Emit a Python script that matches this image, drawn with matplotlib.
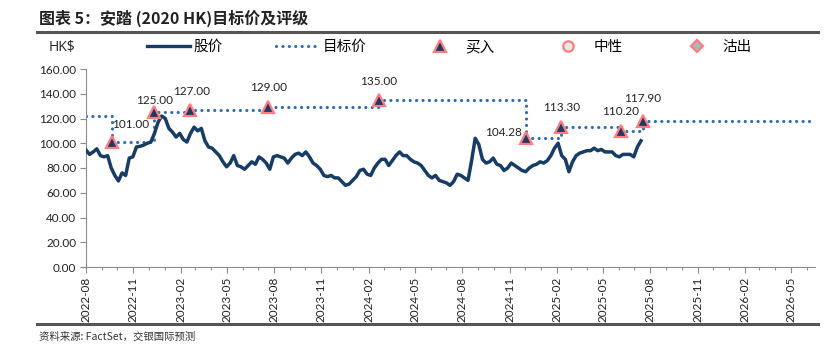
import matplotlib
matplotlib.use("Agg")
import matplotlib.pyplot as plt
import matplotlib.dates as mdates
from matplotlib.lines import Line2D
import pandas as pd

plt.rcParams['font.family'] = ['Noto Sans CJK SC', 'DejaVu Sans']

# weekly close (HK$), from 2022-08-01
price = [
    94.5, 91, 93, 95.5, 90, 89, 90, 80, 74, 69.5,
    76, 74, 88, 89, 97, 97.5, 98.5, 100, 101, 108,
    117, 122, 120, 112, 109, 105, 108, 103, 101, 108,
    113, 110, 112, 102, 97, 96, 93, 90, 85, 81,
    84, 90, 82, 81, 79, 82, 85, 83, 89, 87,
    84, 79, 89, 90, 89, 88, 84, 88, 91, 92,
    90, 93, 89, 84, 82, 79, 74, 73, 74, 72,
    72, 69, 66, 67, 70, 73, 78, 79, 75, 74,
    80, 84, 87, 87, 82, 86, 90, 93, 90, 90,
    87, 85, 84, 82, 78, 74, 72, 74, 70, 69,
    68, 66, 69, 75, 74, 72, 70, 86, 104, 99,
    87, 84, 85, 88, 83, 82, 78, 80, 84, 82,
    80, 78, 77, 80, 82, 83, 85, 84, 86, 90,
    96, 100, 90, 87, 77, 85, 90, 92, 93, 94,
    94, 96, 94, 95, 93, 93, 93, 90, 89, 91,
    91, 91, 89, 97, 102,
]
price_dates = pd.date_range("2022-08-01", periods=len(price), freq="7D")

# target price history (step line)
target_dates = pd.to_datetime([
    "2022-08-01", "2022-09-20", "2022-12-11", "2023-02-19", "2023-07-21",
    "2024-02-21", "2024-12-02", "2025-02-09", "2025-06-05", "2025-07-17",
    "2026-06-17",
])
target_values = [122, 101, 125, 127, 129, 135, 104.28, 113.3, 110.2, 117.9, 117.9]

# rating changes (all 买入)
rating_dates = target_dates[1:10]
rating_targets = target_values[1:10]

# label offsets in pixels (dx, dy) for each rating label
label_offsets = [(19, 18), (1, 12), (2, 18), (0, 20), (0, 18),
                 (-22, 5), (0, 19), (0, 19), (0, 23)]

W, H = 824, 352
fig = plt.figure(figsize=(W / 100, H / 100), dpi=100)
fig.patch.set_facecolor("white")

# plot area in pixels: x 86..815, y 69..267
ax = fig.add_axes([86 / W, 1 - 267 / H, (815 - 86) / W, (267 - 69) / H])

navy = "#173D66"
blue = "#2E6DB4"
pink = "#FF7C80"

ax.plot(price_dates, price, color=navy, lw=2.5, solid_joinstyle="round", zorder=3)
ax.plot(target_dates, target_values, drawstyle="steps-post", color=blue,
        lw=2.3, linestyle=(0, (0.01, 2.0)), dash_capstyle="round", zorder=2)
ax.plot(rating_dates, rating_targets, linestyle="none", marker="^", ms=9,
        mfc="#1F3864", mec=pink, mew=1.6, zorder=4)

for d, v, (dx, dy) in zip(rating_dates, rating_targets, label_offsets):
    ax.annotate(f"{v:.2f}", (d, v), xytext=(dx, dy), textcoords="offset pixels",
                ha="center", va="center", fontsize=8.5, family=["Lato", "DejaVu Sans"],
                color="#222222")

ax.set_ylim(0, 160)
ax.set_yticks(range(0, 161, 20))
ax.set_yticklabels([f"{t:.2f}" for t in range(0, 161, 20)],
                   family=["Lato", "DejaVu Sans"], fontsize=8.5)
ax.set_xlim(pd.Timestamp("2022-08-01"), pd.Timestamp("2026-06-17"))
ax.xaxis.set_major_locator(mdates.MonthLocator(bymonth=[2, 5, 8, 11]))
ax.xaxis.set_minor_locator(mdates.MonthLocator())
ax.xaxis.set_major_formatter(mdates.DateFormatter("%Y-%m"))
for lab in ax.get_xticklabels():
    lab.set_rotation(90)
    lab.set_fontsize(8.5)
    lab.set_family(["Lato", "DejaVu Sans"])

for s in ["top", "right"]:
    ax.spines[s].set_visible(False)
for s in ["left", "bottom"]:
    ax.spines[s].set_color("#8C8C8C")
    ax.spines[s].set_linewidth(0.8)
ax.tick_params(axis="both", which="major", color="#8C8C8C", length=4, width=0.8,
               labelcolor="#222222", pad=3)
ax.tick_params(axis="x", which="minor", color="#8C8C8C", length=2, width=0.8)

# legend row
handles = [
    Line2D([], [], color=navy, lw=2.4),
    Line2D([], [], color=blue, lw=2.3, linestyle=(0, (0.01, 2.0)), dash_capstyle="round"),
    Line2D([], [], linestyle="none", marker="^", ms=8.5, mfc="#1F3864", mec=pink, mew=1.6),
    Line2D([], [], linestyle="none", marker="o", ms=7.5, mfc="#E8E8E8", mec=pink, mew=1.6),
    Line2D([], [], linestyle="none", marker="D", ms=6.5, mfc="#A9B7BF", mec=pink, mew=1.6),
]
names = ["股价", "目标价", "买入", "中性", "沽出"]
fig.legend(handles, names, ncol=5, loc="center left",
           bbox_to_anchor=(140 / W, 1 - 47 / H), frameon=False, fontsize=10.5,
           handlelength=2.9, handletextpad=0.3, columnspacing=3.6, borderpad=0)

fig.text(62 / W, 1 - 47 / H, "HK$", ha="center", va="center", fontsize=10,
         family=["Open Sans", "DejaVu Sans"], color="#222222")

# title and rules
fig.text(39 / W, 1 - 18 / H, "图表 5：安踏 (2020 HK)目标价及评级", ha="left", va="center",
         fontsize=11.5, fontweight="bold", color="#222222")
fig.add_artist(Line2D([37 / W, 818 / W], [1 - 32 / H, 1 - 32 / H], color="#555555", lw=2.2))
fig.add_artist(Line2D([37 / W, 818 / W], [1 - 324 / H, 1 - 324 / H], color="#555555", lw=2.2))
fig.text(39 / W, 1 - 337 / H, "资料来源: FactSet，交银国际预测", ha="left", va="center",
         fontsize=7.5, style="italic", color="#333333")

fig.savefig("out.png", dpi=100)
